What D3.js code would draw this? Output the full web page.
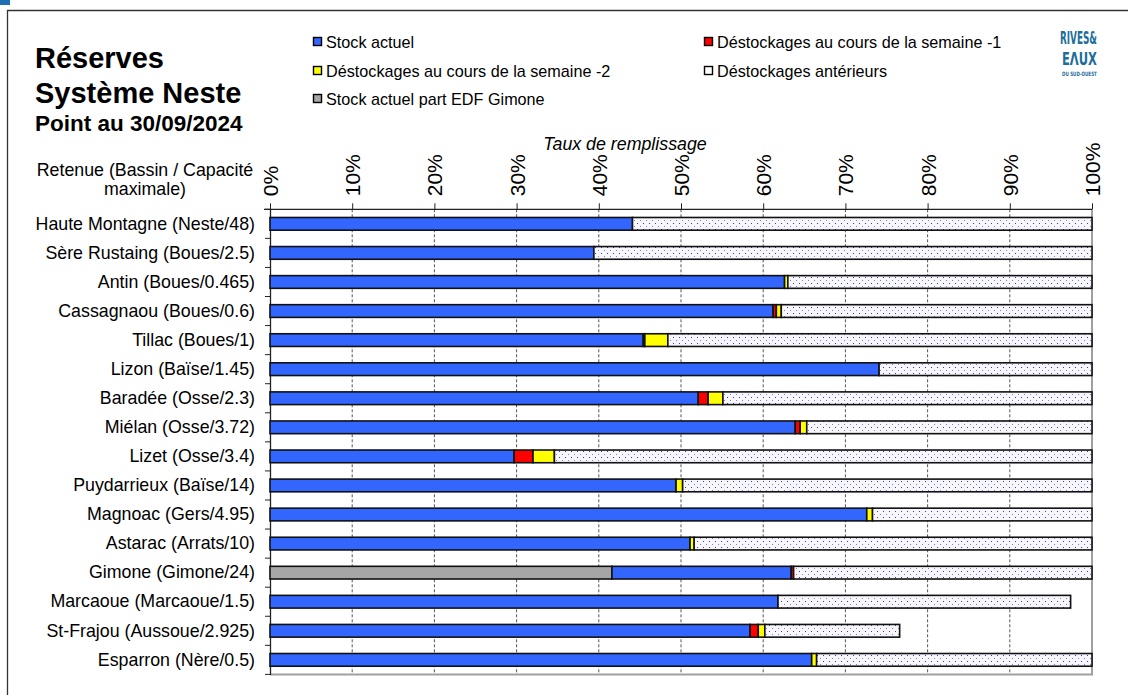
<!DOCTYPE html>
<html>
<head>
<meta charset="utf-8">
<script src="https://cdn.jsdelivr.net/npm/d3@7"></script>
<style>
  body { margin: 0; background: #fff; }
  text { font-family: "Liberation Sans", Arial, sans-serif; }
  text.logo { font-family: "DejaVu Sans", sans-serif; font-weight: bold; }
</style>
</head>
<body>
<div id="chart"></div>
<script>
// DATA ***********************************************
var retenues = [
  "Haute Montagne (Neste/48)", "Sère Rustaing (Boues/2.5)", "Antin (Boues/0.465)",
  "Cassagnaou (Boues/0.6)", "Tillac (Boues/1)", "Lizon (Baïse/1.45)",
  "Baradée (Osse/2.3)", "Miélan (Osse/3.72)", "Lizet (Osse/3.4)",
  "Puydarrieux (Baïse/14)", "Magnoac (Gers/4.95)", "Astarac (Arrats/10)",
  "Gimone (Gimone/24)", "Marcaoue (Marcaoue/1.5)", "St-Frajou (Aussoue/2.925)",
  "Esparron (Nère/0.5)"
];
// segment lengths in % of capacity
var stockEdf   = [0, 0, 0, 0, 0, 0, 0, 0, 0, 0, 0, 0, 41.6, 0, 0, 0];
var stockActuel = [44.1, 39.4, 62.6, 61.2, 45.4, 74.1, 52.1, 63.9, 29.7, 49.4, 72.6, 51.1, 21.8, 61.8, 58.4, 65.9];
var semaine1   = [0, 0, 0, 0.4, 0.2, 0, 1.2, 0.6, 2.3, 0, 0, 0, 0.3, 0, 1.0, 0];
var semaine2   = [0, 0, 0.4, 0.6, 2.8, 0, 1.8, 0.8, 2.6, 0.8, 0.7, 0.5, 0, 0, 0.8, 0.6];
var anterieurs = [55.9, 60.6, 37.0, 37.8, 51.6, 25.9, 44.9, 34.7, 65.4, 49.8, 26.7, 48.4, 36.3, 35.6, 16.4, 33.5];
var xTicks = [0, 10, 20, 30, 40, 50, 60, 70, 80, 90, 100];

var seriesKeys = ["edf", "stock", "s1", "s2", "ant"];
var seriesNames = {
  stock: "Stock actuel", s1: "Déstockages au cours de la semaine -1",
  s2: "Déstockages au cours de la semaine -2", ant: "Déstockages antérieurs",
  edf: "Stock actuel part EDF Gimone"
};
var seriesFill = {
  edf: "#a6a6a6", stock: "#3366ff", s1: "#ff0000", s2: "#ffff00", ant: "url(#dots)"
};

var table = retenues.map(function (r, i) {
  return { name: r, edf: stockEdf[i], stock: stockActuel[i], s1: semaine1[i], s2: semaine2[i], ant: anterieurs[i] };
});

// SVG ***********************************************
var W = 1128, H = 695;
var svg = d3.select("#chart").append("svg").attr("width", W).attr("height", H);

var defs = svg.append("defs");
var pat = defs.append("pattern").attr("id", "dots")
  .attr("patternUnits", "userSpaceOnUse").attr("width", 6).attr("height", 6);
pat.append("rect").attr("width", 6).attr("height", 6).attr("fill", "#f7f7fb");
pat.append("rect").attr("x", 1).attr("y", 1).attr("width", 1).attr("height", 1).attr("fill", "#3b3bb0");
pat.append("rect").attr("x", 4).attr("y", 4).attr("width", 1).attr("height", 1).attr("fill", "#8080cc");

// page frame + cropped header mark
svg.append("rect").attr("x", 0).attr("y", 0).attr("width", 10).attr("height", 5).attr("fill", "#1f6fb4");
svg.append("path").attr("d", "M7.5,695 V10.5 H1128").attr("fill", "none").attr("stroke", "#333").attr("stroke-width", 1.3);

// titles
var title = svg.append("g").attr("font-weight", "bold").attr("fill", "#000");
title.append("text").attr("x", 35).attr("y", 68).attr("font-size", 29).text("Réserves");
title.append("text").attr("x", 35).attr("y", 103).attr("font-size", 29).text("Système Neste");
title.append("text").attr("x", 35).attr("y", 131).attr("font-size", 22.5).text("Point au 30/09/2024");

var yl = svg.append("g").attr("font-size", 17.8).attr("text-anchor", "middle");
yl.append("text").attr("x", 145).attr("y", 176).text("Retenue (Bassin / Capacité");
yl.append("text").attr("x", 145).attr("y", 195).text("maximale)");

// logo (condensed by horizontal scaling to a target width)
var logoLines = [
  { t: "RIVES&", x: 1060, y: 44, size: 17, w: 37 },
  { t: "EΛUX", x: 1062, y: 65, size: 17.5, w: 35 },
  { t: "DU SUD-OUEST", x: 1062, y: 75.5, size: 6, w: 35 }
];
svg.append("g").selectAll("text").data(logoLines).join("text")
  .attr("class", "logo").attr("fill", "#1d6d9c")
  .attr("font-size", function (d) { return d.size; })
  .text(function (d) { return d.t; })
  .attr("transform", function (d) {
    var len = this.getComputedTextLength();
    return "translate(" + d.x + "," + d.y + ") scale(" + (d.w / len) + ",1)";
  });

// legend
var legendItems = [
  { k: "stock", x: 313, y: 42 }, { k: "s1", x: 704, y: 42 },
  { k: "s2", x: 313, y: 71 }, { k: "ant", x: 704, y: 71 },
  { k: "edf", x: 313, y: 99 }
];
var leg = svg.append("g").selectAll("g").data(legendItems).join("g")
  .attr("transform", function (d) { return "translate(" + d.x + "," + d.y + ")"; });
leg.append("rect").attr("x", 0.5).attr("y", -4.5).attr("width", 8).attr("height", 8)
  .attr("fill", function (d) { return d.k === "ant" ? "#fff" : seriesFill[d.k]; })
  .attr("stroke", "#000").attr("stroke-width", 1.4);
leg.append("text").attr("x", 13).attr("y", 6).attr("font-size", 16.2)
  .text(function (d) { return seriesNames[d.k]; });

// SCALES ***********************************************
var plot = { left: 270, right: 1092, top: 209.3, bottom: 674.4 };
var x = d3.scaleLinear().domain([0, 100]).range([plot.left, plot.right]);
var y = d3.scaleBand().domain(retenues).range([plot.top, plot.bottom]).paddingInner(0).paddingOuter(0);
var barH = 12.7;

// gridlines
svg.append("g").selectAll("line").data(xTicks.slice(1, -1)).join("line")
  .attr("x1", function (d) { return x(d); }).attr("x2", function (d) { return x(d); })
  .attr("y1", plot.top).attr("y2", plot.bottom)
  .attr("stroke", "#555").attr("stroke-width", 1).attr("stroke-dasharray", "3,2");

// plot border (right / bottom light grey)
svg.append("path")
  .attr("d", "M" + plot.right + "," + plot.top + " V" + plot.bottom + " H" + plot.left)
  .attr("fill", "none").attr("stroke", "#a0a0a0").attr("stroke-width", 2);

// top axis
var xAxis = svg.append("g").attr("transform", "translate(0," + plot.top + ")")
  .call(d3.axisTop(x).tickValues(xTicks).tickSize(6).tickFormat(function (d) { return d + "%"; }));
xAxis.select(".domain").attr("d", "M" + (plot.left - 6) + ",0H" + plot.right).attr("stroke", "#222").attr("stroke-width", 1.3);
xAxis.selectAll(".tick line").attr("stroke", "#222");
xAxis.selectAll(".tick text")
  .attr("font-family", "'Liberation Sans', Arial, sans-serif")
  .attr("font-size", 21).attr("fill", "#000")
  .attr("text-anchor", "start")
  .attr("transform", "rotate(-90)")
  .attr("x", 13).attr("y", 0).attr("dy", "0.36em");

svg.append("text").attr("x", 625).attr("y", 150).attr("font-size", 17.8)
  .attr("font-style", "italic").attr("text-anchor", "middle").text("Taux de remplissage");

// left axis: labels at band centers, ticks at band boundaries
var yAxis = svg.append("g").attr("transform", "translate(" + plot.left + ",0)")
  .call(d3.axisLeft(y).tickSize(0).tickPadding(15));
yAxis.select(".domain").attr("stroke", "#222").attr("stroke-width", 1.3);
yAxis.selectAll(".tick text").attr("font-family", "'Liberation Sans', Arial, sans-serif")
  .attr("font-size", 17.8).attr("fill", "#000");
var bounds = retenues.map(function (r) { return y(r); }).concat([plot.bottom]);
yAxis.append("g").selectAll("line").data(bounds).join("line")
  .attr("x1", -5).attr("x2", 0)
  .attr("y1", function (d) { return d; }).attr("y2", function (d) { return d; })
  .attr("stroke", "#222").attr("stroke-width", 1);

// BARS ***********************************************
var stacked = d3.stack().keys(seriesKeys)(table);
svg.append("g").selectAll("g").data(stacked).join("g")
  .attr("fill", function (s) { return seriesFill[s.key]; })
  .selectAll("rect")
  .data(function (s) { return s.filter(function (d) { return d[1] - d[0] > 0; }); })
  .join("rect")
  .attr("x", function (d) { return x(d[0]); })
  .attr("width", function (d) { return x(d[1]) - x(d[0]); })
  .attr("y", function (d) { return y(d.data.name) + (y.bandwidth() - barH) / 2; })
  .attr("height", barH)
  .attr("stroke", "#111").attr("stroke-width", 1.6);
</script>
</body>
</html>
